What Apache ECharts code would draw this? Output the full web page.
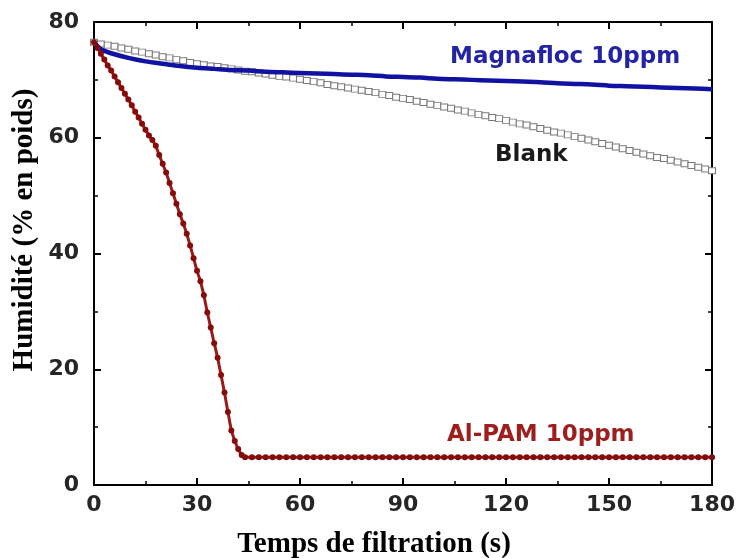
<!DOCTYPE html>
<html>
<head>
<meta charset="utf-8">
<script src="https://cdn.jsdelivr.net/npm/echarts@6/dist/echarts.min.js"></script>
<style>html,body{margin:0;padding:0;background:#fff}#c{width:738px;height:558px}</style>
</head>
<body>
<div id="c"></div>
<script>
// ---- data ----
const xTicks = [0, 30, 60, 90, 120, 150, 180];
const yTicks = [0, 20, 40, 60, 80];

const alpamTime = [0,1,2,3,4,5,6,7,8,9,10,11,12,13,14,15,16,17,18,19,20,21,22,23,24,25,26,27,28,29,30,31,32,33,34,35,36,37,38,39,40,41,42,43,44,
  46,48,50,52,54,56,58,60,62,64,66,68,70,72,74,76,78,80,82,84,86,88,90,92,94,96,98,100,102,104,106,108,110,112,114,116,118,120,122,124,126,128,130,132,134,136,138,140,142,144,146,148,150,152,154,156,158,160,162,164,166,168,170,172,174,176,178,180];
const alpamValue = [76.5,75.5,74.5,73.5,72.5,71.6,70.6,69.6,68.6,67.6,66.6,65.6,64.5,63.5,62.4,61.4,60.4,59.6,58.6,57.0,55.5,54.0,52.2,50.4,48.6,46.8,45.2,43.4,41.4,39.2,37.0,35.2,32.8,29.8,27.2,24.5,22.0,19.0,16.0,12.6,9.4,7.6,6.2,5.2,4.8,
  4.8,4.8,4.8,4.8,4.8,4.8,4.8,4.8,4.8,4.8,4.8,4.8,4.8,4.8,4.8,4.8,4.8,4.8,4.8,4.8,4.8,4.8,4.8,4.8,4.8,4.8,4.8,4.8,4.8,4.8,4.8,4.8,4.8,4.8,4.8,4.8,4.8,4.8,4.8,4.8,4.8,4.8,4.8,4.8,4.8,4.8,4.8,4.8,4.8,4.8,4.8,4.8,4.8,4.8,4.8,4.8,4.8,4.8,4.8,4.8,4.8,4.8,4.8,4.8,4.8,4.8,4.8,4.8];

const blankTime = [0,2,4,6,8,10,12,14,16,18,20,22,24,26,28,30,32,34,36,38,40,42,44,46,48,50,52,54,56,58,60,62,64,66,68,70,72,74,76,78,80,82,84,86,88,90,92,94,96,98,100,102,104,106,108,110,112,114,116,118,120,122,124,126,128,130,132,134,136,138,140,142,144,146,148,150,152,154,156,158,160,162,164,166,168,170,172,174,176,178,180];
const blankValue = [76.5,76.2,76.0,75.8,75.5,75.3,75.0,74.8,74.5,74.3,74.0,73.8,73.5,73.3,73.0,72.8,72.6,72.4,72.3,72.1,71.9,71.7,71.5,71.4,71.2,71.0,70.8,70.6,70.5,70.3,70.1,69.9,69.7,69.5,69.2,69.0,68.8,68.6,68.4,68.2,68.0,67.8,67.5,67.3,67.0,66.8,66.6,66.3,66.1,65.8,65.6,65.3,65.1,64.8,64.6,64.3,64.0,63.8,63.5,63.3,63.0,62.7,62.4,62.2,61.9,61.6,61.3,61.0,60.8,60.5,60.2,59.9,59.6,59.3,59.0,58.7,58.4,58.1,57.8,57.5,57.2,56.9,56.6,56.4,56.1,55.8,55.5,55.2,54.9,54.6,54.3];

const magnaTime = [0,2,5,10,15,20,25,30,35,40,45,50,55,60,65,70,75,80,85,90,95,100,105,110,115,120,125,130,135,140,145,150,155,160,165,170,175,180];
const magnaValue = [76.5,75.3,74.6,73.8,73.2,72.8,72.4,72.1,71.9,71.7,71.6,71.4,71.3,71.2,71.1,71.0,70.9,70.8,70.6,70.5,70.4,70.2,70.1,70.0,69.9,69.8,69.7,69.6,69.4,69.3,69.2,69.0,68.9,68.8,68.7,68.6,68.5,68.4];

const seriesNames = ['Magnafloc 10ppm', 'Blank', 'Al-PAM 10ppm'];
const xTitle = 'Temps de filtration (s)';
const yTitle = 'Humidité (% en poids)';

// ---- chart ----
const zip = (a, b) => a.map((v, i) => [v, b[i]]);
const chart = echarts.init(document.getElementById('c'), null, {renderer: 'canvas'});
const tickFont = {fontFamily: 'DejaVu Sans', fontWeight: 'bold', fontSize: 22, color: '#262626'};
const axisCommon = {
  axisLine: {show: true, onZero: false, lineStyle: {color: '#000', width: 2}},
  axisTick: {show: true, inside: true, length: 7, lineStyle: {color: '#000', width: 2}},
  minorTick: {show: true, splitNumber: 2, length: 4, lineStyle: {color: '#000', width: 1.5}},
  splitLine: {show: false}
};
chart.setOption({
  animation: false,
  backgroundColor: '#fff',
  grid: {left: 94, right: 21, top: 22, bottom: 73, containLabel: false},
  xAxis: [
    Object.assign({type: 'value', min: xTicks[0], max: xTicks[xTicks.length - 1], interval: 30, position: 'bottom',
      axisLabel: Object.assign({margin: 9}, tickFont)}, axisCommon),
    Object.assign({type: 'value', min: xTicks[0], max: xTicks[xTicks.length - 1], interval: 30, position: 'top',
      axisLabel: {show: false}}, axisCommon)
  ],
  yAxis: [
    Object.assign({type: 'value', min: yTicks[0], max: yTicks[yTicks.length - 1], interval: 20, position: 'left',
      axisLabel: Object.assign({margin: 15}, tickFont)}, axisCommon),
    Object.assign({type: 'value', min: yTicks[0], max: yTicks[yTicks.length - 1], interval: 20, position: 'right',
      axisLabel: {show: false}}, axisCommon)
  ],
  series: [
    {
      name: seriesNames[1], type: 'line', data: zip(blankTime, blankValue),
      symbol: 'rect', symbolSize: [7, 6], showAllSymbol: true,
      itemStyle: {color: '#ffffff', borderColor: '#7a7a7a', borderWidth: 1},
      lineStyle: {color: '#9a9a9a', width: 1}, z: 2
    },
    {
      name: seriesNames[0], type: 'line', data: zip(magnaTime, magnaValue),
      showSymbol: false, smooth: 0.3,
      lineStyle: {color: '#1212a2', width: 4.5}, z: 3
    },
    {
      name: seriesNames[2], type: 'line', data: zip(alpamTime, alpamValue),
      symbol: 'circle', symbolSize: 6, showAllSymbol: true,
      itemStyle: {color: '#860c0c'},
      lineStyle: {color: '#9a1a1a', width: 3}, z: 4
    }
  ],
  graphic: [
    {type: 'text', left: 450, top: 46, style: {text: seriesNames[0], fill: '#2323a6', font: 'bold 23px "DejaVu Sans"'}},
    {type: 'text', left: 495, top: 144, style: {text: seriesNames[1], fill: '#1a1a1a', font: 'bold 23px "DejaVu Sans"'}},
    {type: 'text', left: 447, top: 424, style: {text: seriesNames[2], fill: '#9e1e1e', font: 'bold 23px "DejaVu Sans"'}},
    {type: 'text', x: 374, y: 545, style: {text: xTitle, fill: '#000', font: 'bold 29px "Liberation Serif"', textAlign: 'center', textVerticalAlign: 'middle'}},
    {type: 'text', x: 25, y: 230, rotation: Math.PI / 2, style: {text: yTitle, fill: '#000', font: 'bold 29px "Liberation Serif"', textAlign: 'center', textVerticalAlign: 'middle'}}
  ]
});
</script>
</body>
</html>
